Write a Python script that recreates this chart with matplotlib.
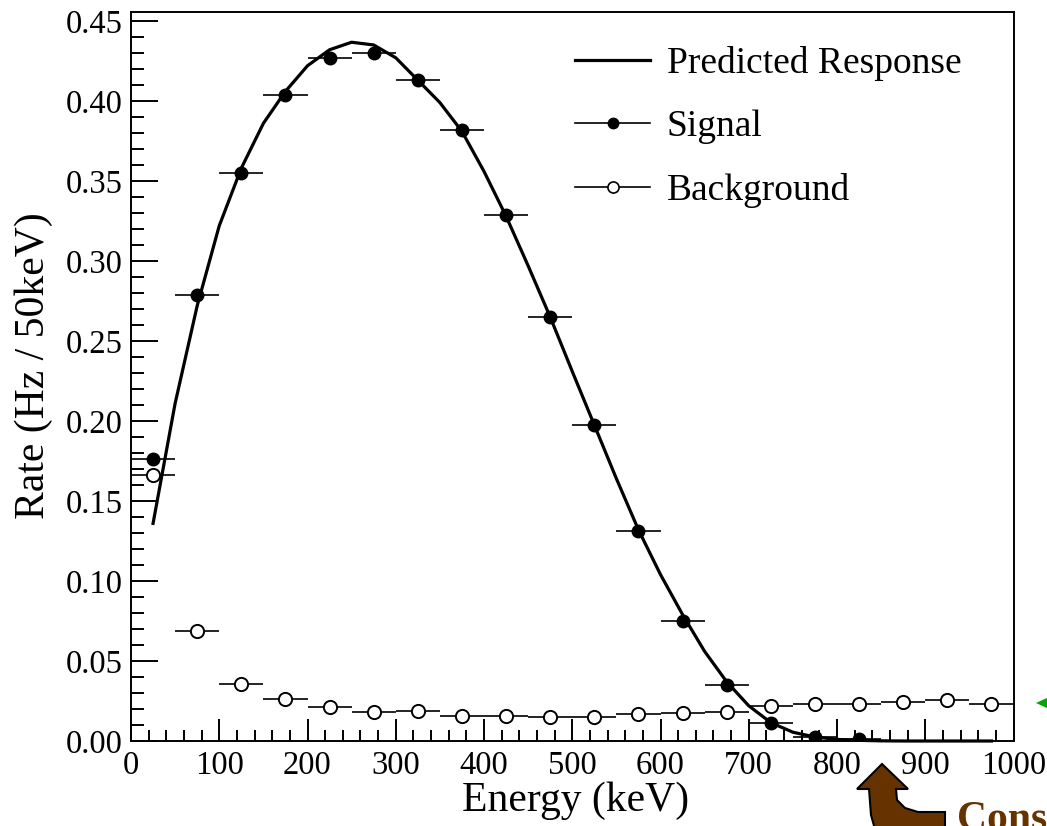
import matplotlib
matplotlib.use('Agg')
import matplotlib.pyplot as plt
from matplotlib.patches import Polygon
from matplotlib.lines import Line2D
from matplotlib.ticker import MultipleLocator, FormatStrFormatter

plt.rcParams['font.family'] = ['Liberation Serif', 'DejaVu Serif']

# bin centres (keV), 50 keV wide bins
sig_energy = [25, 75, 125, 175, 225, 275, 325, 375, 425, 475, 525, 575, 625, 675, 725, 775, 825]
signal = [0.176, 0.279, 0.355, 0.404, 0.427, 0.430, 0.413, 0.382, 0.329, 0.265, 0.1975, 0.131,
          0.075, 0.035, 0.011, 0.0025, 0.001]

bkg_energy = [25, 75, 125, 175, 225, 275, 325, 375, 425, 475, 525, 575, 625, 675, 725, 775, 825,
              875, 925, 975]
background = [0.166, 0.069, 0.0356, 0.0265, 0.0215, 0.0179, 0.0185, 0.0156, 0.0155, 0.0152,
              0.0152, 0.0167, 0.0177, 0.0183, 0.0221, 0.0229, 0.0229, 0.0242, 0.0256, 0.0229]

curve_energy = [25, 50, 75, 100, 125, 150, 175, 200, 225, 250, 275, 300, 325, 350, 375, 400,
                425, 450, 475, 500, 525, 550, 575, 600, 625, 650, 675, 700, 725, 750, 775, 800,
                825, 850, 875, 900, 925, 950, 975]
curve_rate = [0.136, 0.211, 0.272, 0.322, 0.358, 0.386, 0.406, 0.422, 0.432, 0.4367, 0.435,
              0.427, 0.413, 0.399, 0.381, 0.356, 0.328, 0.297, 0.265, 0.231, 0.1975, 0.164,
              0.132, 0.104, 0.079, 0.056, 0.037, 0.022, 0.0115, 0.0055, 0.0025, 0.001, 0.0004,
              0.0001, 0.0, 0.0, 0.0, 0.0, 0.0]

W, H = 1047, 826


def px(x, y):
    return (x / W, 1 - y / H)


fig = plt.figure(figsize=(W / 100, H / 100), dpi=100)
ax = fig.add_axes([131 / W, 1 - 741 / H, (1013.5 - 131) / W, (741 - 12) / H])

ax.plot(curve_energy, curve_rate, color='black', lw=2.3, zorder=3, clip_on=False,
        solid_joinstyle='round')
ax.errorbar(sig_energy, signal, xerr=25, fmt='o', color='black', ms=9, elinewidth=1.2,
            capsize=0, zorder=4)
ax.errorbar(bkg_energy, background, xerr=25, fmt='o', color='black', mfc='white', mec='black',
            mew=1.4, ms=9.5, elinewidth=1.2, capsize=0, zorder=4)

ax.set_xlim(0, 1000)
ax.set_ylim(0, 0.4556)
ax.xaxis.set_major_locator(MultipleLocator(100))
ax.xaxis.set_minor_locator(MultipleLocator(20))
ax.yaxis.set_major_locator(MultipleLocator(0.05))
ax.yaxis.set_minor_locator(MultipleLocator(0.01))
ax.yaxis.set_major_formatter(FormatStrFormatter('%.2f'))

ax.tick_params(axis='both', which='both', direction='in', width=1.4, labelsize=23.5,
               top=False, right=False)
ax.tick_params(axis='x', which='major', length=15.8, pad=7)
ax.tick_params(axis='x', which='minor', length=7.9)
ax.tick_params(axis='y', which='major', length=19.4, pad=6)
ax.tick_params(axis='y', which='minor', length=9.4)
for sp in ax.spines.values():
    sp.set_linewidth(1.4)

ax.set_xlabel('Energy (keV)', fontsize=30)
ax.set_ylabel('Rate (Hz / 50keV)', fontsize=30)
ax.xaxis.set_label_coords(0.504, -0.055)
ax.yaxis.set_label_coords(-0.088, 0.515)

handles = [
    Line2D([], [], color='black', lw=2.3),
    Line2D([], [], color='black', lw=1.2, marker='o', ms=7.5),
    Line2D([], [], color='black', lw=1.2, marker='o', ms=8, mfc='white', mew=1.2),
]
labels = ['Predicted Response', 'Signal', 'Background']
fig.legend(handles, labels, loc='upper left', bbox_to_anchor=px(575, 46), frameon=False,
           fontsize=27, borderpad=0, borderaxespad=0, handlelength=2.0, handletextpad=0.45,
           labelspacing=0.77, numpoints=1)

# bits of neighbouring annotation cut off at the figure edge
arrow = [(882, 764), (908, 789), (896, 789), (897, 800), (905, 808), (918, 812), (945, 812),
         (945, 840), (878, 840), (871, 815), (869, 789), (857, 789)]
fig.patches.append(Polygon([px(x, y) for x, y in arrow], closed=True, transform=fig.transFigure,
                           facecolor='#663300', edgecolor='black', lw=1.5))
fig.text(*px(957, 801), 'Constraint', color='#663300', fontsize=30, fontweight='bold',
         va='top', ha='left')
fig.patches.append(Polygon([px(x, y) for x, y in [(1036, 703), (1049, 697), (1049, 709)]],
                           closed=True, transform=fig.transFigure, facecolor='#00aa00',
                           edgecolor='none'))

fig.savefig('out.png', dpi=100)
